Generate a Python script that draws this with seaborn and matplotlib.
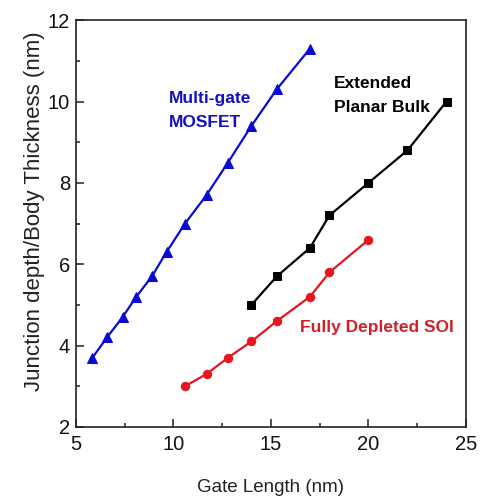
import pandas as pd
import matplotlib
matplotlib.use("Agg")
import matplotlib.pyplot as plt
import seaborn as sns
from matplotlib.ticker import MultipleLocator

# === Daten ===
mg_len = [5.85, 6.6, 7.4, 8.1, 8.9, 9.65, 10.6, 11.7, 12.8, 14.0, 15.3, 17.0]
mg_thk = [3.7, 4.2, 4.7, 5.2, 5.7, 6.3, 7.0, 7.7, 8.5, 9.4, 10.3, 11.3]

bulk_len = [14.0, 15.3, 17.0, 18.0, 20.0, 22.0, 24.0]
bulk_thk = [5.0, 5.7, 6.4, 7.2, 8.0, 8.8, 10.0]

soi_len = [10.6, 11.7, 12.8, 14.0, 15.3, 17.0, 18.0, 20.0]
soi_thk = [3.0, 3.3, 3.7, 4.1, 4.6, 5.2, 5.8, 6.6]

BLUE = "#0a0ad2"
RED = "#e8141e"
FONT = ["Liberation Sans", "DejaVu Sans"]

sns.set_style("ticks")
plt.rcParams["font.family"] = FONT

fig = plt.figure(figsize=(4.89, 5.04), dpi=100)
ax = fig.add_axes([0.155, 0.153, 0.798, 0.807])

series = [
    (mg_len, mg_thk, BLUE, "^", 6.5),
    (bulk_len, bulk_thk, "black", "s", 5.5),
    (soi_len, soi_thk, RED, "o", 6.0),
]
for xs, ys, col, mk, ms in series:
    df = pd.DataFrame({"gate": xs, "thk": ys})
    sns.lineplot(data=df, x="gate", y="thk", ax=ax, color=col, marker=mk,
                 markersize=ms, markeredgecolor=col, linewidth=1.6, sort=False)

# Beschriftungen der Kurven
ax.text(9.75, 9.78, "Multi-gate\nMOSFET", color="#1010c0", fontsize=12.5,
        fontweight="bold", ha="left", va="center", linespacing=1.7)
ax.text(18.23, 10.15, "Extended\nPlanar Bulk", color="black", fontsize=12.5,
        fontweight="bold", ha="left", va="center", linespacing=1.75)
ax.text(16.49, 4.45, "Fully Depleted SOI", color="#d0202a", fontsize=12.5,
        fontweight="bold", ha="left", va="center")

ax.set_xlim(5, 25)
ax.set_ylim(2, 12)
ax.xaxis.set_major_locator(MultipleLocator(5))
ax.xaxis.set_minor_locator(MultipleLocator(2.5))
ax.yaxis.set_major_locator(MultipleLocator(2))
ax.yaxis.set_minor_locator(MultipleLocator(1))
ax.tick_params(which="both", direction="in", width=1.1, colors="#222222",
               labelcolor="#111111")
ax.tick_params(which="major", length=6, labelsize=14.5)
ax.tick_params(which="minor", length=3)
ax.tick_params(axis="x", which="major", pad=6)
ax.tick_params(axis="y", which="major", pad=4)
for sp in ax.spines.values():
    sp.set_visible(True)
    sp.set_linewidth(1.2)
    sp.set_color("#222222")

ax.set_xlabel("Gate Length (nm)", fontsize=13.5, color="#222222")
ax.set_ylabel("Junction depth/Body Thickness (nm)", fontsize=16, color="#222222")
ax.xaxis.set_label_coords(0.5, -0.127)
ax.yaxis.set_label_coords(-0.078, 0.53)

plt.savefig("out.png", dpi=100)
plt.close()
